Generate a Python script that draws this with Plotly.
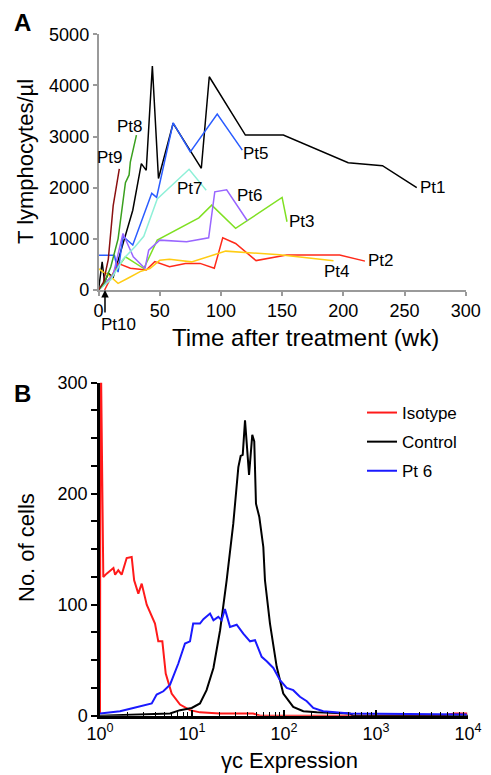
import plotly.graph_objects as go

# page body has an 8 px margin; the figure is sized so it fills the rest of the window
OFF = 8
W, H = 491 - OFF, 775 - OFF
FONT = "Liberation Sans, Arial, Helvetica, sans-serif"


def px(x):
    return (x - OFF) / W


def py(y):
    return 1 - (y - OFF) / H


# ---------------- Panel A data (weeks, T lymphocytes/ul) ----------------
pt1_wk = [0, 3, 5, 8, 12, 20, 28, 35, 39, 44, 49, 61, 84, 90.5, 120, 151, 204, 232, 260]
pt1_val = [0, 550, 150, 330, 250, 900, 1560, 2470, 2340, 4380, 2180, 3260, 2380, 4170, 3030, 3030, 2490, 2430, 2000]

pt2_wk = [5, 16, 26, 39, 46, 58, 71, 83, 94.6, 101.5, 112, 128.7, 153.7, 197, 217.7]
pt2_val = [0, 520, 425, 390, 555, 455, 520, 520, 425, 1020, 910, 575, 685, 685, 565]

pt3_wk = [0, 10, 22, 37, 48, 58, 82, 92.5, 112, 150, 154]
pt3_val = [0, 250, 650, 420, 975, 1100, 1410, 1660, 1205, 1810, 1335]

pt4_wk = [0, 4, 8, 16, 24, 34, 42, 50, 58, 76, 104, 148, 192]
pt4_val = [420, 350, 300, 130, 230, 360, 420, 580, 600, 550, 760, 690, 570]

pt5_wk = [0, 13, 16, 20, 28, 43.5, 47.5, 61, 75, 97, 117.5]
pt5_val = [680, 680, 350, 1050, 880, 1890, 1810, 3270, 2700, 3440, 2735]

pt6_wk = [0, 8, 12, 20, 28.4, 38, 41, 50, 72, 90, 95, 104.7, 121.6]
pt6_val = [0, 200, 300, 1105, 650, 420, 780, 975, 945, 1020, 1920, 1960, 1355]

pt7_wk = [0, 10, 20, 30, 37, 48, 74, 88]
pt7_val = [0, 200, 600, 850, 1050, 1780, 2360, 1950]

pt8_wk = [0, 5, 10, 16, 22, 25, 26, 31]
pt8_val = [0, 150, 450, 1000, 2100, 2250, 2500, 3030]

pt9_wk = [0, 4, 8, 10, 12, 17]
pt9_val = [0, 150, 600, 1100, 1650, 2370]

label_names = ["Pt1", "Pt2", "Pt3", "Pt4", "Pt5", "Pt6", "Pt7", "Pt8", "Pt9"]
label_wk = [273, 231, 166, 195, 129, 124, 75, 26, 9.4]
label_val = [2010, 586, 1334, 357, 2670, 1855, 1986, 3190, 2600]
pt10_name = "Pt10"
pt10_wk = 5.3

# ---------------- Panel B data (gamma-c expression histogram) ----------------
iso_x = [1.0, 1.01, 1.03, 1.086, 1.18, 1.40, 1.46, 1.58, 1.72, 1.95, 2.21, 2.35, 2.61, 2.84, 3.22,
         3.96, 4.30, 4.76, 5.18, 6.01, 7.41, 9.51, 12.2, 20, 46, 55, 5000, 7200, 9800]
iso_y = [2, 300, 300, 125, 128, 133, 127, 131, 127, 142, 143, 122, 110, 119, 100,
         83, 67, 67, 38, 20, 10, 5, 3, 2, 2, 0, 0, 2, 2]

ctl_x = [1.0, 3.0, 5.77, 7.41, 9.93, 12.2, 14.4, 17.1, 20.2, 23.8, 28.1, 31.9, 33.8, 35.6, 37.7,
         41.7, 45.2, 47.5, 49.6, 53.9, 59.6, 62.1, 70.4, 83.3, 98.2, 126, 162, 227, 522, 562, 10000]
ctl_y = [0, 1, 2, 5, 7, 11, 23, 43, 77, 122, 173, 224, 234, 235, 266,
         217, 253, 247, 191, 179, 152, 122, 83, 44, 20, 8, 4, 3, 2, 0, 0]

pt6b_x = [1.0, 1.65, 2.30, 2.96, 3.65, 4.13, 4.88, 5.77, 7.10, 8.39, 9.51, 10.3, 12.2, 13.3, 15.7,
          17.1, 19.3, 21.0, 22.8, 25.9, 30.6, 36.1, 42.7, 48.4, 57.2, 64.9, 76.6, 90.5, 107, 126,
          149, 177, 208, 267, 522, 9680]
pt6b_y = [2, 4, 7, 9, 11, 19, 22, 28, 47, 65, 67, 83, 83, 87, 92,
          86, 89, 86, 96, 80, 82, 74, 67, 68, 53, 49, 43, 32, 25, 23,
          17, 13, 7, 4, 2, 1]

b_major = [1, 10, 100, 1000, 10000]
b_major_text = ["10<sup>0</sup>", "10<sup>1</sup>", "10<sup>2</sup>", "10<sup>3</sup>", "10<sup>4</sup>"]

fig = go.Figure()

series_a = [
    (pt1_wk, pt1_val, "#000000"),
    (pt2_wk, pt2_val, "#ff2a1a"),
    (pt3_wk, pt3_val, "#7fe022"),
    (pt4_wk, pt4_val, "#ffcc14"),
    (pt5_wk, pt5_val, "#2a5cff"),
    (pt6_wk, pt6_val, "#9966ff"),
    (pt7_wk, pt7_val, "#8ff0d8"),
    (pt8_wk, pt8_val, "#3aa01e"),
    (pt9_wk, pt9_val, "#8b1010"),
]
for (xs, ys, c), nm in zip(series_a, label_names):
    fig.add_trace(go.Scatter(x=xs, y=ys, mode="lines", line=dict(color=c, width=1.5),
                             xaxis="x", yaxis="y", showlegend=False, name=nm, cliponaxis=False))

for xs, ys, c, nm in [(iso_x, iso_y, "#ff1a1a", "Isotype"),
                      (ctl_x, ctl_y, "#000000", "Control"),
                      (pt6b_x, pt6b_y, "#1a1aff", "Pt 6")]:
    fig.add_trace(go.Scatter(x=xs, y=ys, mode="lines", line=dict(color=c, width=2),
                             xaxis="x2", yaxis="y2", name=nm, legendgroup=nm, showlegend=True))


def txt(x, y, s, size, angle=0):
    return dict(x=px(x), y=py(y), xref="paper", yref="paper", text=s, showarrow=False,
                xanchor="center", yanchor="middle", textangle=angle,
                font=dict(size=size, family=FONT, color="black"))


ann = []
for nm, xw, yv in zip(label_names, label_wk, label_val):
    ann.append(dict(x=xw, y=yv, xref="x", yref="y", text=nm, showarrow=False,
                    xanchor="center", yanchor="middle",
                    font=dict(size=17, color="black", family=FONT)))
ann.append(dict(x=pt10_wk, y=0, xref="x", yref="y", text="", showarrow=True, ax=0, ay=24,
                arrowhead=2, arrowsize=1, arrowwidth=1.5, arrowcolor="black"))
ann += [
    txt(118, 324, pt10_name, 17),
    txt(22, 22, "<b>A</b>", 24),
    txt(22, 393, "<b>B</b>", 24),
    txt(26, 162, "T lymphocytes/µl", 22, -90),
    txt(305, 337, "Time after treatment (wk)", 24),
    txt(26, 548, "No. of cells", 22, -90),
    txt(289, 760, "γc Expression", 22),
]

gray = "#9a9a9a"
fig.update_layout(
    width=W, height=H, margin=dict(l=0, r=0, t=0, b=0, autoexpand=False),
    paper_bgcolor="white", plot_bgcolor="white",
    font=dict(family=FONT, size=17, color="black"),
    xaxis=dict(domain=[px(98.5), px(465.7)], anchor="y", range=[0, 300], dtick=50, tick0=0,
               automargin=False,
               showgrid=False, zeroline=False, showline=True, linecolor=gray, linewidth=1.5,
               ticks="outside", ticklen=4, tickcolor=gray, tickwidth=1.5,
               tickfont=dict(size=18)),
    yaxis=dict(domain=[py(290), py(34.3)], anchor="x", range=[0, 5000], dtick=1000,
               automargin=False,
               showgrid=False, zeroline=False, showline=True, linecolor=gray, linewidth=1.5,
               ticks="outside", ticklen=4, tickcolor=gray, tickwidth=1.5,
               tickfont=dict(size=18)),
    xaxis2=dict(domain=[px(100), px(468)], anchor="y2", type="log", range=[0, 4],
                tickvals=b_major, ticktext=b_major_text, automargin=False,
                showgrid=False, zeroline=False, showline=True, linecolor="black", linewidth=2.5,
                ticks="inside", ticklen=6, tickcolor="black", tickwidth=1.5,
                minor=dict(ticks="inside", ticklen=4, tickcolor="black", tickwidth=1.2,
                           dtick="D1", showgrid=False),
                tickfont=dict(size=18)),
    yaxis2=dict(domain=[py(715.7), py(382.7)], anchor="x2", range=[0, 300],
                tickvals=[0, 100, 200, 300], ticktext=["0", "100", "200", "300"], automargin=False,
                showgrid=False, zeroline=False, showline=True, linecolor="black", linewidth=2.5,
                ticks="outside", ticklen=6, tickcolor="black", tickwidth=1.5,
                minor=dict(ticks="outside", ticklen=6, tickcolor="black", tickwidth=1.5, dtick=25,
                           showgrid=False),
                tickfont=dict(size=18)),
    legend=dict(x=px(362), y=py(395), xanchor="left", yanchor="top", bgcolor="rgba(0,0,0,0)",
                font=dict(size=17, family=FONT), tracegroupgap=4, traceorder="grouped"),
    annotations=ann,
    showlegend=True,
)

fig.write_html("out.html")
